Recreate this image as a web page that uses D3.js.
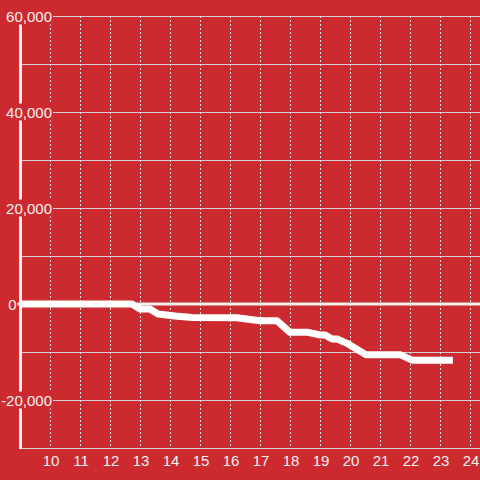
<!DOCTYPE html>
<html>
<head>
<meta charset="utf-8">
<script src="https://cdn.jsdelivr.net/npm/d3@7"></script>
<style>
  html, body { margin: 0; padding: 0; background: #cc2a2f; }
  svg { display: block; }
</style>
</head>
<body>
<svg id="chart" width="480" height="480"></svg>
<script>
// ---- data ----
const hours = [9, 12.73, 13.0, 13.33, 13.6, 14.17, 14.73, 16.23, 17.0, 17.57, 18.0, 18.6, 19.0, 19.17, 19.4, 19.57, 19.9, 20.53, 21.67, 22.07, 23.43];
const values = [0, 0, -1050, -1050, -2100, -2500, -2800, -2850, -3500, -3500, -5900, -5900, -6450, -6450, -7300, -7300, -8200, -10550, -10550, -11700, -11700];
const xTicks = [10, 11, 12, 13, 14, 15, 16, 17, 18, 19, 20, 21, 22, 23, 24];
const yLabelTicks = [-20000, 0, 20000, 40000, 60000];
const yGridTicks = [-30000, -20000, -10000, 0, 10000, 20000, 30000, 40000, 50000, 60000];

(function () {
const W = 480, H = 480;
const mLeft = 20, mRight = 480, mTop = 16, mBottom = 448;
const bg = "#cc2a2f";
const font = "'Liberation Sans', Arial, sans-serif";

const svg = d3.select("#chart");
svg.append("rect").attr("width", W).attr("height", H).attr("fill", bg);

const x = d3.scaleLinear().domain([9, 9 + (mRight - mLeft) / 30]).range([mLeft, mRight]);
const y = d3.scaleLinear().domain([-30000, 60000]).range([mBottom, mTop]);

// horizontal grid
svg.append("g").selectAll("line").data(yGridTicks.filter(d => d !== 0 && d !== -30000)).join("line")
  .attr("x1", mLeft).attr("x2", mRight)
  .attr("y1", d => y(d) + 0.5).attr("y2", d => y(d) + 0.5)
  .attr("stroke", "#d0d0d0").attr("stroke-width", 1);

// bottom axis line
svg.append("line").attr("x1", mLeft).attr("x2", mRight)
  .attr("y1", mBottom + 0.5).attr("y2", mBottom + 0.5)
  .attr("stroke", "#d0d0d0").attr("stroke-width", 1);

// vertical dashed grid
svg.append("g").selectAll("line").data(xTicks).join("line")
  .attr("x1", d => Math.round(x(d)) + 0.5).attr("x2", d => Math.round(x(d)) + 0.5)
  .attr("y1", mTop).attr("y2", mBottom)
  .attr("stroke", "#e6e6e6").attr("stroke-width", 1)
  .attr("stroke-dasharray", "2,2");

// zero line
svg.append("line").attr("x1", mLeft - 3).attr("x2", mRight)
  .attr("y1", y(0)).attr("y2", y(0))
  .attr("stroke", "#f0f0f0").attr("stroke-width", 3);

// y axis line
svg.append("line").attr("x1", mLeft + 0.5).attr("x2", mLeft + 0.5)
  .attr("y1", mTop).attr("y2", mBottom + 1)
  .attr("stroke", "#f0f0f0").attr("stroke-width", 3);

// data line
const pts = hours.map((h, i) => [h, values[i]]);
const line = d3.line().x(d => x(d[0])).y(d => y(d[1]));
svg.append("path").datum(pts)
  .attr("d", line)
  .attr("fill", "none")
  .attr("stroke", "#ffffff")
  .attr("stroke-width", 7)
  .attr("stroke-linejoin", "round")
  .attr("stroke-linecap", "butt");

// y labels with background
const fmt = d3.format(",");
const yl = svg.append("g");
yLabelTicks.forEach(d => {
  const g = yl.append("g");
  const tx = d === 0 ? 16.5 : 52;
  const t = g.append("text")
    .attr("x", tx).attr("y", y(d)).attr("dy", "0.38em")
    .attr("text-anchor", "end")
    .attr("font-family", font).attr("font-size", 15)
    .attr("fill", "#f2f2f2")
    .text(fmt(d).replace("\u2212", "-"));
  const bb = t.node().getBBox();
  g.insert("rect", "text")
    .attr("x", bb.x - 1).attr("y", y(d) - 8.5)
    .attr("width", bb.width + 2).attr("height", 17)
    .attr("fill", bg);
});

// x labels
svg.append("g").selectAll("text").data(xTicks).join("text")
  .attr("x", d => x(d) + 1).attr("y", 466)
  .attr("text-anchor", "middle")
  .attr("font-family", font).attr("font-size", 15)
  .attr("fill", "#f2f2f2")
  .text(d => d);
})();
</script>
</body>
</html>
